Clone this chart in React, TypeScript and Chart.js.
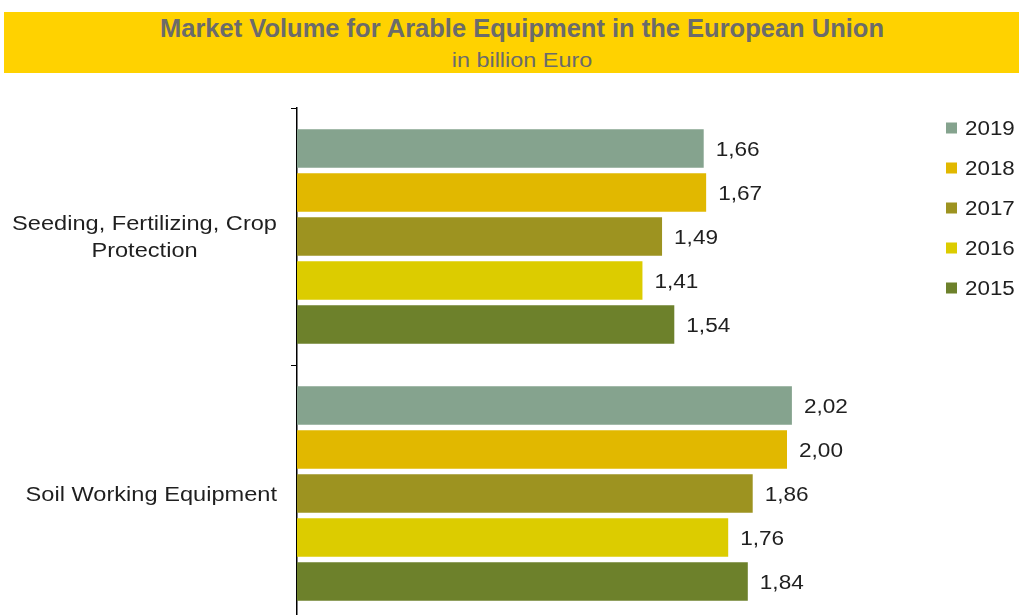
import React, { useEffect, useRef } from "react";
import { Chart, registerables } from "chart.js";

Chart.register(...registerables);

const titleText = "Market Volume for Arable Equipment in the European Union";
const subtitleText = "in billion Euro";
const categories: string[][] = [["Seeding, Fertilizing, Crop", "Protection"], ["Soil Working Equipment"]];
const years = ["2019", "2018", "2017", "2016", "2015"];
const v2019 = [1.66, 2.02];
const v2018 = [1.67, 2.0];
const v2017 = [1.49, 1.86];
const v2016 = [1.41, 1.76];
const v2015 = [1.54, 1.84];
const seriesValues = [v2019, v2018, v2017, v2016, v2015];
const seriesColors = ["#85A38E", "#E1B800", "#9D9320", "#DCCC00", "#6D812B"];

const FONT = "'Liberation Sans', Arial, sans-serif";
const LABEL_SIZE = 20;

const fmt = (v: number) => v.toFixed(2).replace(".", ",");

function drawText(ctx: CanvasRenderingContext2D, text: string, x: number, y: number, align: CanvasTextAlign, sx: number) {
  ctx.save();
  ctx.translate(x, y);
  ctx.scale(sx, 1);
  ctx.textAlign = align;
  ctx.fillText(text, 0, 0);
  ctx.restore();
}

const customDraw = {
  id: "customDraw",
  afterDraw(chart: any) {
    const ctx = chart.ctx as CanvasRenderingContext2D;
    const yScale = chart.scales.y;
    ctx.save();
    ctx.font = `${LABEL_SIZE}px ${FONT}`;
    ctx.fillStyle = "#1f1f1f";
    ctx.textBaseline = "middle";
    // category labels (block right aligned, lines centered)
    const csx = 1.18;
    categories.forEach((lines, i) => {
      const cy = yScale.getPixelForValue(i);
      const lh = 27;
      const maxW = Math.max(...lines.map((l) => ctx.measureText(l).width)) * csx;
      const cx = chart.chartArea.left - 20 - maxW / 2;
      lines.forEach((l, j) => {
        drawText(ctx, l, cx, cy + 1.5 - ((lines.length - 1) * lh) / 2 + j * lh, "center", csx);
      });
    });
    // data labels
    chart.data.datasets.forEach((ds: any, di: number) => {
      const meta = chart.getDatasetMeta(di);
      meta.data.forEach((bar: any, i: number) => {
        drawText(ctx, fmt(ds.data[i]), bar.x + 12, bar.y + 2, "left", 1.13);
      });
    });
    // legend
    chart.data.datasets.forEach((ds: any, di: number) => {
      const y = 128 + di * 40;
      ctx.fillStyle = ds.backgroundColor;
      ctx.fillRect(946, y - 5.5, 11, 11);
      ctx.fillStyle = "#1f1f1f";
      drawText(ctx, ds.label, 965, y + 1, "left", 1.12);
    });
    ctx.restore();
  },
};

export default function App() {
  const ref = useRef<HTMLCanvasElement | null>(null);
  useEffect(() => {
    if (!ref.current) return;
    const chart = new Chart(ref.current, {
      type: "bar",
      data: {
        labels: categories.map((c) => c.join(" ")),
        datasets: years.map((y, i) => ({
          label: y,
          data: seriesValues[i],
          backgroundColor: seriesColors[i],
          borderWidth: 0,
          categoryPercentage: 0.856,
          barPercentage: 0.87,
        })),
      },
      options: {
        indexAxis: "y",
        responsive: false,
        animation: false,
        layout: { padding: { top: 108, bottom: 18, left: 0, right: 109.5 } },
        plugins: {
          legend: { display: false },
          tooltip: { enabled: false },
          title: { display: false },
        },
        scales: {
          x: { display: false, min: 0, max: 2.5 },
          y: {
            ticks: { display: false },
            grid: {
              display: true,
              drawOnChartArea: false,
              drawTicks: true,
              tickLength: 6,
              color: "#000",
              lineWidth: 1,
              offset: true,
            },
            border: { display: true, color: "#000", width: 1.5 },
            afterFit: (scale: any) => {
              scale.width = 297;
            },
          },
        },
      },
      plugins: [customDraw],
    } as any);
    return () => chart.destroy();
  }, []);

  return (
    <div
      style={{
        position: "fixed",
        left: 0,
        top: 0,
        width: 1019,
        height: 615,
        overflow: "hidden",
        background: "#fff",
      }}
    >
      <div
        style={{
          position: "absolute",
          left: 4,
          top: 12,
          width: 1036,
          height: 61,
          background: "#FFD200",
          fontFamily: FONT,
          textAlign: "center",
          color: "#6B6B6B",
        }}
      >
        <div style={{ position: "absolute", left: 0, right: 0, top: 1, fontSize: 25.5, fontWeight: "bold", lineHeight: "30px" }}>
          {titleText}
        </div>
        <div
          style={{
            position: "absolute",
            left: 0,
            right: 0,
            top: 36,
            fontSize: 20,
            lineHeight: "24px",
            transform: "scaleX(1.17)",
            transformOrigin: "center",
          }}
        >
          {subtitleText}
        </div>
      </div>
      <canvas ref={ref} width={1019} height={640} style={{ position: "absolute", left: 0, top: 0, width: 1019, height: 640 }} />
    </div>
  );
}
